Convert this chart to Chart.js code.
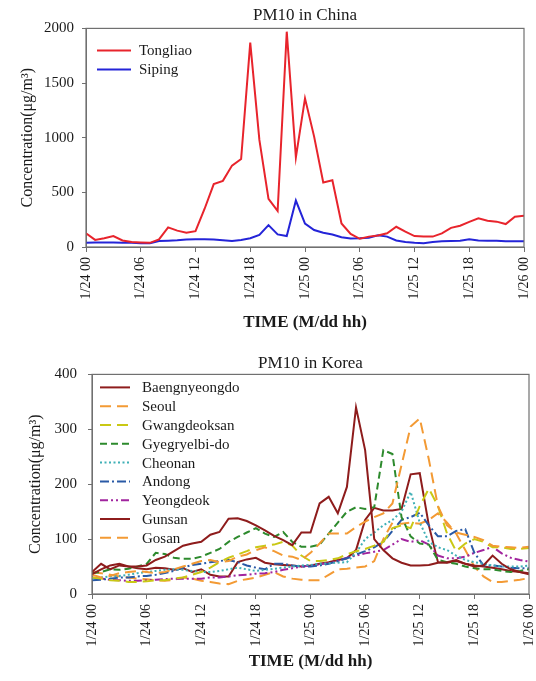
<!DOCTYPE html>
<html>
<head>
<meta charset="utf-8">
<title>PM10 in China and Korea</title>
<script src="https://cdn.jsdelivr.net/npm/chart.js@4.4.0/dist/chart.umd.min.js"></script>
<style>
    html, body { margin: 0; padding: 0; background: #fff; }
    #wrap { position: relative; width: 536px; height: 681px; }
    canvas { position: absolute; left: 0; }
    #chinaChart { top: 0; }
    #koreaChart { top: 340px; }
</style>
</head>
<body>
<div id="wrap">
    <canvas id="chinaChart" width="536" height="340"></canvas>
    <canvas id="koreaChart" width="536" height="341"></canvas>
</div>
<script>
// Hourly PM10 (ug/m3), 1/24 00 .. 1/26 00
const hours = Array.from({ length: 49 }, (_, i) => i);
const tickLabels = ['1/24 00', '1/24 06', '1/24 12', '1/24 18', '1/25 00', '1/25 06', '1/25 12', '1/25 18', '1/26 00'];

// China
const tongliao = [125, 65, 80, 100, 60, 45, 42, 38, 70, 180, 150, 130, 145, 350, 575, 605, 745, 805, 1870, 980,
    440, 330, 1970, 820, 1360, 1010, 590, 610, 215, 120, 75, 95, 105, 125, 185, 140, 100, 95, 95, 125,
    175, 195, 230, 262, 240, 232, 210, 277, 285];
const siping = [40, 42, 42, 42, 40, 38, 35, 35, 55, 58, 62, 68, 70, 70, 68, 62, 55, 65, 80, 110,
    200, 115, 100, 425, 215, 155, 130, 115, 90, 78, 80, 85, 108, 95, 60, 45, 38, 35, 45, 52,
    55, 58, 70, 60, 58, 58, 52, 52, 52];

// Korea
const baengnyeongdo = [36, 45, 52, 55, 50, 50, 52, 62, 68, 78, 88, 92, 95, 108, 113, 137, 138, 133, 125, 116,
    106, 98, 89, 112, 112, 165, 177, 147, 195, 340, 262, 100, 80, 65, 57, 52, 52, 53, 57, 58,
    62, 55, 50, 52, 70, 55, 45, 40, 36];
const seoul = [35, 30, 33, 38, 40, 42, 40, 38, 40, 45, 50, 55, 60, 62, 58, 60, 68, 72, 80, 85,
    78, 70, 68, 62, 75, 92, 110, 110, 110, 122, 132, 140, 147, 165, 235, 305, 320, 245, 160, 125,
    112, 108, 104, 98, 88, 86, 85, 84, 86];
const gwangdeoksan = [30, 28, 25, 24, 22, 22, 23, 25, 25, 28, 30, 35, 40, 48, 58, 66, 72, 78, 85, 88,
    90, 95, 88, 70, 60, 60, 62, 65, 72, 78, 82, 88, 95, 120, 125, 120, 160, 192, 160, 110,
    78, 92, 100, 95, 85, 85, 82, 82, 84];
const gyegryelbido = [38, 40, 45, 44, 46, 50, 55, 75, 73, 66, 64, 64, 68, 75, 82, 95, 104, 112, 120, 110,
    104, 113, 95, 86, 86, 90, 110, 130, 150, 158, 155, 158, 262, 255, 140, 105, 92, 90, 62, 58,
    55, 50, 47, 45, 45, 42, 40, 42, 45];
const cheonan = [28, 30, 32, 33, 35, 38, 40, 42, 44, 45, 44, 42, 40, 40, 42, 45, 48, 45, 42, 44,
    46, 48, 50, 52, 53, 55, 56, 57, 58, 75, 100, 112, 125, 135, 150, 186, 130, 95, 85, 80,
    70, 62, 58, 55, 52, 50, 50, 50, 52];
const andong = [25, 26, 28, 30, 30, 32, 33, 35, 38, 42, 48, 53, 55, 58, 60, 62, 58, 52, 48, 45,
    55, 55, 52, 50, 50, 52, 55, 60, 65, 72, 78, 85, 95, 115, 135, 140, 148, 125, 105, 105,
    115, 118, 75, 52, 52, 50, 48, 47, 47];
const yeongdeok = [30, 28, 26, 25, 24, 24, 25, 26, 27, 28, 28, 28, 28, 30, 30, 32, 34, 35, 37, 38,
    40, 44, 47, 50, 52, 54, 56, 60, 66, 70, 74, 77, 80, 90, 100, 95, 98, 90, 70, 65,
    65, 68, 75, 80, 86, 74, 66, 62, 59];
const gunsan = [40, 55, 45, 52, 50, 47, 45, 48, 47, 44, 47, 40, 45, 35, 32, 32, 58, 63, 66, 57,
    54, 53, 52, 50, 52, 55, 58, 62, 65, 80, 135, 157, 152, 152, 155, 218, 220, 125, 58, 57,
    60, 55, 52, 50, 48, 45, 42, 40, 38];
const gosan = [40, 38, 35, 32, 30, 28, 27, 25, 24, 26, 30, 28, 24, 22, 19, 18, 24, 27, 30, 35,
    40, 32, 28, 26, 25, 25, 35, 45, 46, 48, 50, 60, 100, 130, 128, 130, 128, 135, 147, 130,
    110, 80, 50, 32, 22, 22, 24, 26, 29];

const serif = '"Liberation Serif", "Times New Roman", serif';
const textColor = '#1a1a1a';
const axisColor = '#707070';

// box around the plot area
const framePlugin = {
    id: 'frame',
    afterDatasetsDraw(chart) {
        const a = chart.chartArea;
        const ctx = chart.ctx;
        ctx.save();
        ctx.strokeStyle = axisColor;
        ctx.lineWidth = 1.2;
        ctx.strokeRect(a.left, a.top, a.right - a.left, a.bottom - a.top);
        ctx.restore();
    }
};

// legend drawn inside the plot, top left
const insideLegend = {
    id: 'insideLegend',
    afterDatasetsDraw(chart, args, opts) {
        const a = chart.chartArea;
        const ctx = chart.ctx;
        ctx.save();
        ctx.font = '15px ' + serif;
        ctx.textBaseline = 'middle';
        ctx.textAlign = 'left';
        chart.data.datasets.forEach((ds, i) => {
            const y = a.top + opts.top + i * opts.rowHeight;
            ctx.strokeStyle = ds.borderColor;
            ctx.lineWidth = ds.borderWidth;
            ctx.setLineDash(ds.borderDash || []);
            ctx.beginPath();
            ctx.moveTo(a.left + opts.lineStart, y);
            ctx.lineTo(a.left + opts.lineEnd, y);
            ctx.stroke();
            ctx.setLineDash([]);
            ctx.fillStyle = textColor;
            ctx.fillText(ds.label, a.left + opts.textStart, y + 1);
        });
        ctx.restore();
    }
};

function series(label, data, color, dash) {
    return {
        label: label,
        data: data,
        borderColor: color,
        backgroundColor: color,
        borderWidth: 2,
        borderDash: dash,
        pointRadius: 0,
        tension: 0,
        fill: false
    };
}

function makeOptions(cfg) {
    return {
        responsive: false,
        animation: false,
        layout: { padding: { left: 0, right: cfg.padRight, top: 0, bottom: 0 } },
        plugins: {
            legend: { display: false },
            tooltip: { enabled: false },
            title: {
                display: true,
                text: cfg.title,
                fullSize: false,
                color: textColor,
                font: { family: serif, size: 17, weight: 'normal' },
                padding: cfg.titlePad
            },
            insideLegend: cfg.legend
        },
        scales: {
            x: {
                type: 'linear',
                min: 0,
                max: 48,
                afterFit(scale) {
                    scale.height = cfg.xHeight;
                    // let the layout padding alone decide the plot's right edge
                    scale.paddingLeft = 0;
                    scale.paddingRight = 0;
                },
                ticks: {
                    stepSize: 6,
                    autoSkip: false,
                    minRotation: 90,
                    maxRotation: 90,
                    padding: 5,
                    color: textColor,
                    font: { family: serif, size: 14 },
                    callback: (v) => tickLabels[v / 6]
                },
                grid: { drawOnChartArea: false, drawTicks: true, tickLength: 5, color: axisColor },
                border: { display: true, color: axisColor },
                title: {
                    display: true,
                    text: 'TIME (M/dd hh)',
                    color: textColor,
                    font: { family: serif, size: 17, weight: 'bold' },
                    padding: { top: 0, bottom: cfg.xTitleBottom }
                }
            },
            y: {
                min: 0,
                max: cfg.yMax,
                afterFit(scale) { scale.width = cfg.yWidth; },
                ticks: {
                    stepSize: cfg.yStep,
                    padding: cfg.yTickPad,
                    color: textColor,
                    font: { family: serif, size: 15 },
                    callback: (v) => String(v)
                },
                grid: { drawOnChartArea: false, drawTicks: true, tickLength: 4, color: axisColor },
                border: { display: true, color: axisColor },
                title: {
                    display: true,
                    text: 'Concentration(\u03bcg/m\u00b3)',
                    color: textColor,
                    font: { family: serif, size: 16 },
                    padding: { top: cfg.yTitleTop, bottom: 0 }
                }
            }
        }
    };
}

// Top panel: China
new Chart(document.getElementById('chinaChart'), {
    type: 'line',
    data: {
        labels: hours,
        datasets: [
            series('Tongliao', tongliao, '#e8242c', []),
            series('Siping', siping, '#2424d8', [])
        ]
    },
    options: makeOptions({
        title: 'PM10 in China',
        titlePad: { top: 5, bottom: 3 },
        padRight: 12,
        xHeight: 93,
        xTitleBottom: 7,
        yMax: 2000,
        yStep: 500,
        yWidth: 86,
        yTickPad: 8,
        yTitleTop: 18,
        legend: { top: 22, rowHeight: 19, lineStart: 11, lineEnd: 45, textStart: 53 }
    }),
    plugins: [framePlugin, insideLegend]
});

// Bottom panel: Korea
const darkRed = '#8e1c1c';
const orange = '#f39a34';
new Chart(document.getElementById('koreaChart'), {
    type: 'line',
    data: {
        labels: hours,
        datasets: [
            series('Baengnyeongdo', baengnyeongdo, darkRed, []),
            series('Seoul', seoul, orange, [11, 6]),
            series('Gwangdeoksan', gwangdeoksan, '#c9c814', [11, 6]),
            series('Gyegryelbi-do', gyegryelbido, '#2d8a2d', [7, 4]),
            series('Cheonan', cheonan, '#3fb0b6', [2, 2.5]),
            series('Andong', andong, '#2a5aa6', [9, 3, 2, 3]),
            series('Yeongdeok', yeongdeok, '#a1249e', [8, 3, 2, 3, 2, 3]),
            series('Gunsan', gunsan, darkRed, []),
            series('Gosan', gosan, orange, [11, 6])
        ]
    },
    options: makeOptions({
        title: 'PM10 in Korea',
        titlePad: { top: 13, bottom: 1 },
        padRight: 7,
        xHeight: 87,
        xTitleBottom: 9,
        yMax: 400,
        yStep: 100,
        yWidth: 92,
        yTickPad: 11,
        yTitleTop: 26,
        legend: { top: 13, rowHeight: 18.8, lineStart: 8, lineEnd: 38, textStart: 50 }
    }),
    plugins: [framePlugin, insideLegend]
});
</script>
</body>
</html>
